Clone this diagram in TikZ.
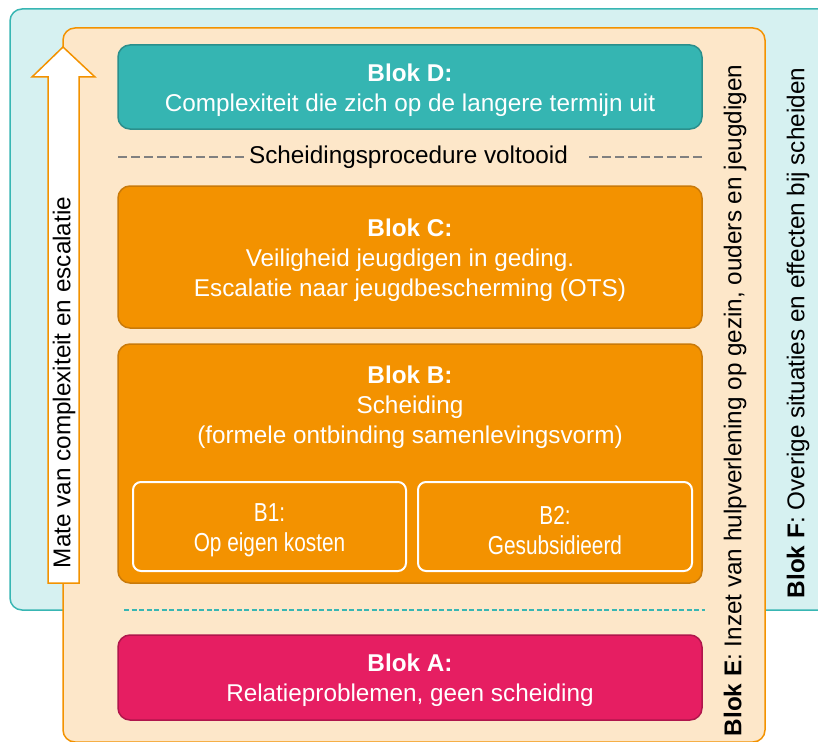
\documentclass[tikz,border=0pt]{standalone}
\usepackage{fontspec}
\setmainfont{Liberation Sans}
\newfontfamily\smalfont{Liberation Sans}[FakeStretch=0.8]
\definecolor{tealrand}{HTML}{38B6B3}
\definecolor{tealbg}{HTML}{D6F1F1}
\definecolor{perzik}{HTML}{FDE7C9}
\definecolor{oranje}{HTML}{F39200}
\definecolor{oranjerand}{HTML}{C97A0A}
\definecolor{tealD}{HTML}{35B5B2}
\definecolor{tealDrand}{HTML}{2B8F8C}
\definecolor{roze}{HTML}{E61E62}
\definecolor{rozerand}{HTML}{B0164C}
\definecolor{grijs}{HTML}{808080}

\tikzset{
  blok/.style={draw, rounded corners=12pt, line width=1.5pt, inner sep=0pt, minimum width=584pt},
  bloktekst/.style={text=white, align=center, inner sep=0pt, font=\fontsize{24.3}{30}\selectfont},
  subblok/.style={draw=white, line width=2pt, rounded corners=8pt,
    minimum width=273pt, minimum height=89pt},
  subtekst/.style={text=white, align=center, inner sep=0pt, font=\smalfont\fontsize{26}{30}\selectfont},
  zijtekst/.style={rotate=90, inner sep=0pt, font=\fontsize{24.3}{28}\selectfont},
  grijsstreep/.style={grijs, line width=2pt, dash pattern=on 9pt off 4pt},
  tealstreep/.style={tealrand, line width=1.5pt, dash pattern=on 5pt off 2.5pt},
}

\begin{document}
\begin{tikzpicture}[x=1pt, y=-1pt]
    \useasboundingbox (0,0) rectangle (818,741);
    \clip (0,0) rectangle (818,741);

    % achtergrond: blok F en blok E
    \draw[fill=tealbg, draw=tealrand, line width=1.5pt, rounded corners=12pt] (10,9) rectangle (840,610);
    \draw[fill=perzik, draw=oranje, line width=1.5pt, rounded corners=12pt] (63,28) rectangle (765,742);

    % pijl
    \draw[fill=white, draw=oranje, line width=1.5pt]
        (48,583) -- (48,77) -- (32,77) -- (63,47) -- (95,77) -- (79,77) -- (79,583) -- cycle;
    \node[zijtekst] (pijltekst) at (64,382.5) {Mate van complexiteit en escalatie};

    % blokken
    \node[blok, fill=tealD, draw=tealDrand, minimum height=84pt] (blokD) at (410,87) {};
    \node[bloktekst] (blokDtekst) at ([yshift=-3pt]blokD.center)
        {\textbf{Blok D:}\\Complexiteit die zich op de langere termijn uit};

    \coordinate (sl) at (118,157);
    \coordinate (sr) at (702,157);
    \node[inner sep=2pt, font=\fontsize{24.3}{28}\selectfont] (voltooid) at (408.5,157) {Scheidingsprocedure voltooid};
    \draw[grijsstreep] (sl) -- (voltooid.west);
    \draw[grijsstreep] (sr) -- ([xshift=16pt]voltooid.east);

    \node[blok, fill=oranje, draw=oranjerand, minimum height=142pt] (blokC) at (410,257) {};
    \node[bloktekst] (blokCtekst) at ([yshift=-3pt]blokC.center)
        {\textbf{Blok C:}\\Veiligheid jeugdigen in geding.\\Escalatie naar jeugdbescherming (OTS)};

    \node[blok, fill=oranje, draw=oranjerand, minimum height=239pt] (blokB) at (410,463.5) {};
    \node[bloktekst] (blokBtekst) at (410,407.5)
        {\textbf{Blok B:}\\Scheiding\\(formele ontbinding samenlevingsvorm)};
    \node[subblok] (b1) at (269.5,526.5) {};
    \node[subtekst] (b1tekst) at ([yshift=-4pt]b1.center) {B1:\\Op eigen kosten};
    \node[subblok, minimum width=274pt] (b2) at (555,526.5) {};
    \node[subtekst] (b2tekst) at ([yshift=-4pt]b2.center) {B2:\\Gesubsidieerd};

    \coordinate (tl) at (124,610);
    \coordinate (tr) at (705,610);
    \draw[tealstreep] (tl) -- (tr);

    \node[blok, fill=roze, draw=rozerand, minimum height=85pt] (blokA) at (410,677.5) {};
    \node[bloktekst] (blokAtekst) at ([yshift=-3pt]blokA.center)
        {\textbf{Blok A:}\\Relatieproblemen, geen scheiding};

    % zijteksten
    \node[zijtekst] (blokE) at (735,400.5)
        {\textbf{Blok E}: Inzet van hulpverlening op gezin, ouders en jeugdigen};
    \node[zijtekst] (blokF) at (798,333)
        {\textbf{Blok F}: Overige situaties en effecten bij scheiden};
\end{tikzpicture}
\end{document}
